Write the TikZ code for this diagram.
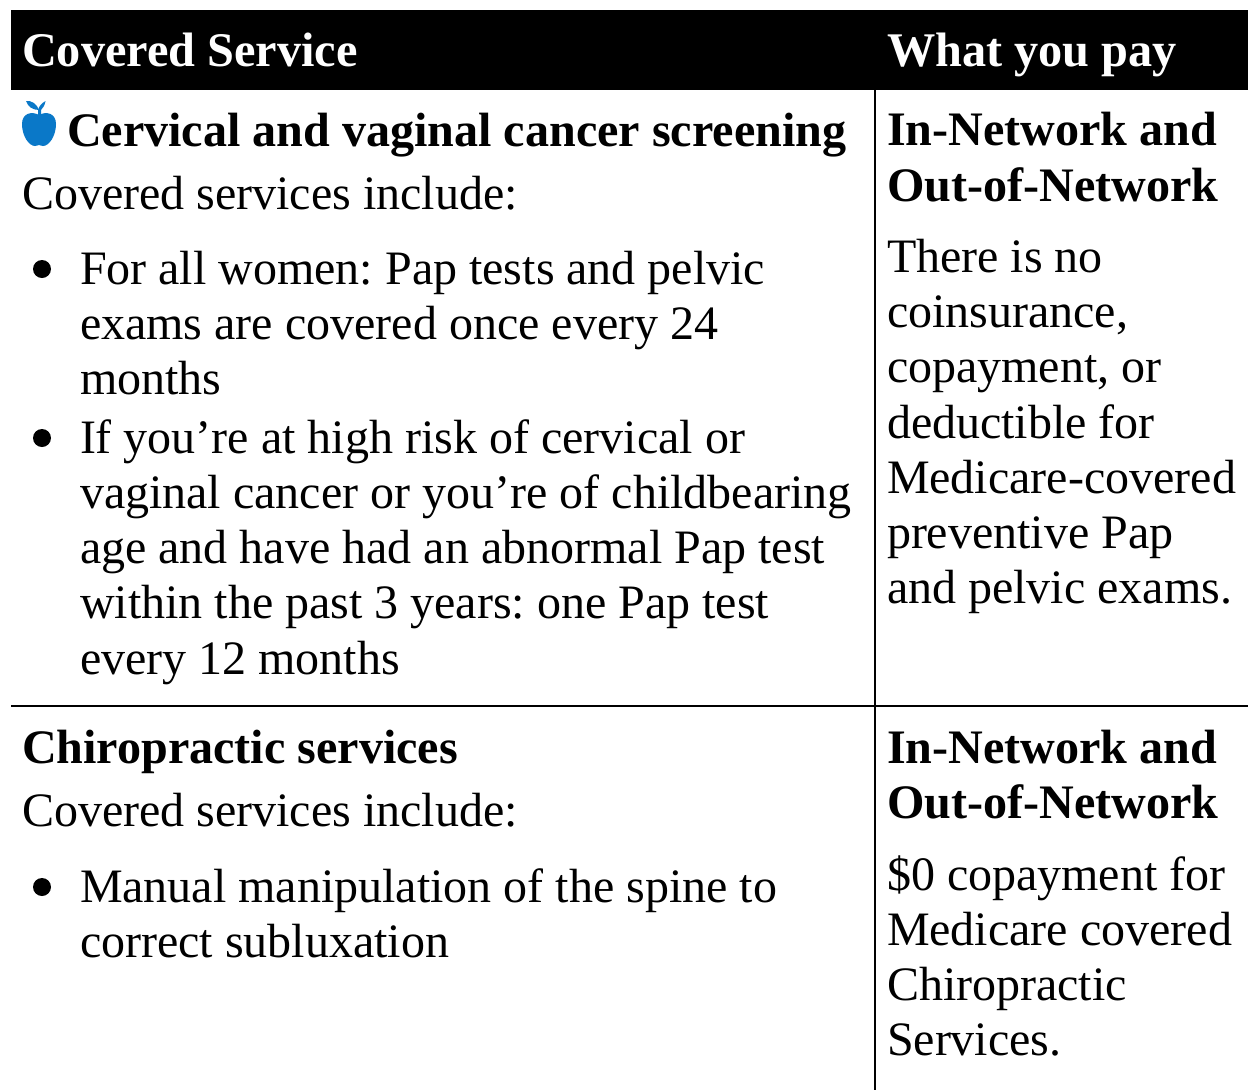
\documentclass[tikz,border=0pt]{standalone}
\usepackage{fontspec}
\setmainfont{Liberation Serif}
\frenchspacing
\definecolor{applec}{HTML}{0A78C8}
\tikzset{
 txt/.style={anchor=base west,inner sep=0pt,outer sep=0pt,font=\fontsize{48pt}{48pt}\selectfont},
 bld/.style={txt,font=\fontsize{48.1pt}{48pt}\selectfont\bfseries},
 hdr/.style={txt,text=white,font=\fontsize{48.3pt}{48pt}\selectfont\bfseries},
 rule/.style={line width=1.6pt,black},
 dot/.style={circle,fill=black,inner sep=0pt,minimum size=18pt}
}
\begin{document}
\begin{tikzpicture}[x=1pt,y=-1pt]
\useasboundingbox (0,0) rectangle (1248,1090);
\fill[white] (0,0) rectangle (1248,1090);
\fill[black] (11,10) rectangle (1248,90);
\coordinate (c1) at (875,90);\coordinate (c2) at (875,1090);
\coordinate (r1) at (11,706);\coordinate (r2) at (1248,706);
\draw[rule] (c1) -- (c2);
\draw[rule] (r1) -- (r2);
\node[hdr] (h1) at (22,66) {Covered Service};
\node[hdr] (h2) at (887,66) {What you pay};
% apple
\fill[applec] (39,115) .. controls (46,111) and (56,113) .. (56,124) .. controls (56,136) and (49,146) .. (43,146) .. controls (41,146) and (40,145) .. (39,145) .. controls (38,145) and (37,146) .. (35,146) .. controls (29,146) and (22,136) .. (22,124) .. controls (22,113) and (32,111) .. (39,115) -- cycle;
\fill[applec] (26,101) .. controls (31,100) and (37,104) .. (39,110) .. controls (33,110) and (28,107) .. (26,101) -- cycle;
\fill[applec] (41,115) -- (38,115) -- (38,110) .. controls (39,106) and (42,103) .. (45.5,101) .. controls (45,105) and (43,108) .. (41,110) -- cycle;
\node[bld] (t1) at (67,146) {Cervical and vaginal cancer screening};
\node[txt] (t2) at (22,209) {Covered services include:};
\node[dot] (b1) at (42,269) {};
\node[txt] (t3) at (80,284) {For all women: Pap tests and pelvic};
\node[txt] at (80,339) {exams are covered once every 24};
\node[txt] at (80,394) {months};
\node[dot] (b2) at (42,438) {};
\node[txt] at (80,453) {If you’re at high risk of cervical or};
\node[txt] at (80,508) {vaginal cancer or you’re of childbearing};
\node[txt] at (80,563) {age and have had an abnormal Pap test};
\node[txt] at (80,618) {within the past 3 years: one Pap test};
\node[txt] at (80,674) {every 12 months};
\node[bld] at (887,145) {In-Network and};
\node[bld] at (887,201) {Out-of-Network};
\node[txt] at (887,272) {There is no};
\node[txt] at (887,327) {coinsurance,};
\node[txt] at (887,382) {copayment, or};
\node[txt] at (887,438) {deductible for};
\node[txt] at (887,493) {Medicare-covered};
\node[txt] at (887,548) {preventive Pap};
\node[txt] at (887,603) {and pelvic exams.};
\node[bld] at (22,763) {Chiropractic services};
\node[txt] at (22,826) {Covered services include:};
\node[dot] (b3) at (42,887) {};
\node[txt] at (80,902) {Manual manipulation of the spine to};
\node[txt] at (80,957) {correct subluxation};
\node[bld] at (887,763) {In-Network and};
\node[bld] at (887,818) {Out-of-Network};
\node[txt] at (887,890) {\$0 copayment for};
\node[txt] at (887,945) {Medicare covered};
\node[txt] at (887,1000) {Chiropractic};
\node[txt] at (887,1055) {Services.};
\end{tikzpicture}
\end{document}
